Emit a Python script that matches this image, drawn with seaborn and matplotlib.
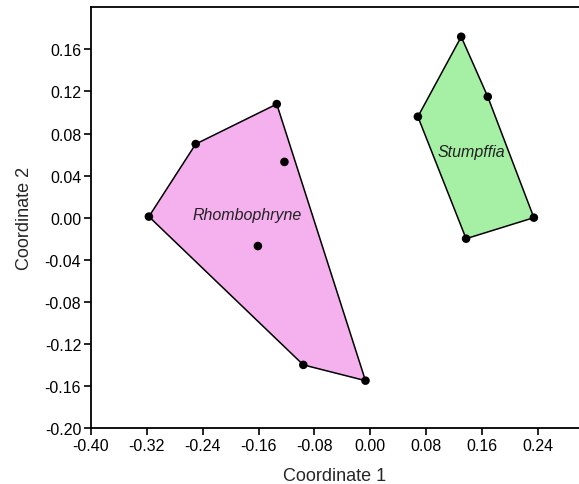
import matplotlib
matplotlib.use('Agg')
import matplotlib.pyplot as plt
import numpy as np
import pandas as pd
import seaborn as sns

# Data
rhombo_x = [-0.317, -0.250, -0.134, -0.123, -0.161, -0.096, -0.007]
rhombo_y = [0.001, 0.070, 0.108, 0.053, -0.027, -0.140, -0.155]
stump_x = [0.130, 0.168, 0.068, 0.234, 0.137]
stump_y = [0.172, 0.115, 0.096, 0.000, -0.020]
groups = ['Rhombophryne', 'Stumpffia']
fill_colors = ['#f5b0ee', '#a6f0a6']
x_ticks = [-0.40, -0.32, -0.24, -0.16, -0.08, 0.00, 0.08, 0.16, 0.24]
y_ticks = [-0.20, -0.16, -0.12, -0.08, -0.04, 0.00, 0.04, 0.08, 0.12, 0.16]


def convex_hull(xs, ys):
    # monotone chain
    pts = sorted(zip(xs, ys))

    def cross(o, a, b):
        return (a[0] - o[0]) * (b[1] - o[1]) - (a[1] - o[1]) * (b[0] - o[0])

    lower, upper = [], []
    for p in pts:
        while len(lower) >= 2 and cross(lower[-2], lower[-1], p) <= 0:
            lower.pop()
        lower.append(p)
    for p in reversed(pts):
        while len(upper) >= 2 and cross(upper[-2], upper[-1], p) <= 0:
            upper.pop()
        upper.append(p)
    return np.array(lower[:-1] + upper[:-1])


df = pd.concat([
    pd.DataFrame({'x': rhombo_x, 'y': rhombo_y, 'genus': groups[0]}),
    pd.DataFrame({'x': stump_x, 'y': stump_y, 'genus': groups[1]}),
])

sns.set_style('ticks')
plt.rcParams['font.family'] = ['Liberation Sans', 'DejaVu Sans']

fig = plt.figure(figsize=(5.79, 4.85), dpi=100)
ax = fig.add_axes([0.157, 0.1155, 0.843, 0.868])

for genus, col in zip(groups, fill_colors):
    sub = df[df.genus == genus]
    hull = convex_hull(sub.x, sub.y)
    ax.fill(hull[:, 0], hull[:, 1], facecolor=col, edgecolor='black', linewidth=1.1, zorder=1)

sns.scatterplot(data=df, x='x', y='y', color='black', s=38, edgecolor='none', ax=ax, zorder=3, legend=False)

ax.text(-0.177, 0.003, 'Rhombophryne', style='italic', fontsize=11.5, ha='center', va='center', color='#222222')
ax.text(0.144, 0.063, 'Stumpffia', style='italic', fontsize=11.5, ha='center', va='center', color='#222222')

ax.set_xlim(-0.40, 0.2986)
ax.set_ylim(-0.20, 0.2003)
ax.set_xticks(x_ticks)
ax.set_yticks(y_ticks)
ax.set_xticklabels(['%.2f' % v for v in x_ticks])
ax.set_yticklabels(['%.2f' % v for v in y_ticks])
ax.tick_params(direction='out', length=5, width=1.2, labelsize=11.5, pad=2, colors='black')
ax.spines['right'].set_visible(False)
for s in ['top', 'left', 'bottom']:
    ax.spines[s].set_linewidth(1.3)
    ax.spines[s].set_color('black')
ax.set_xlabel('Coordinate 1', fontsize=13, labelpad=10)
ax.set_ylabel('Coordinate 2', fontsize=13, labelpad=8)

fig.savefig('out.png', dpi=100)
